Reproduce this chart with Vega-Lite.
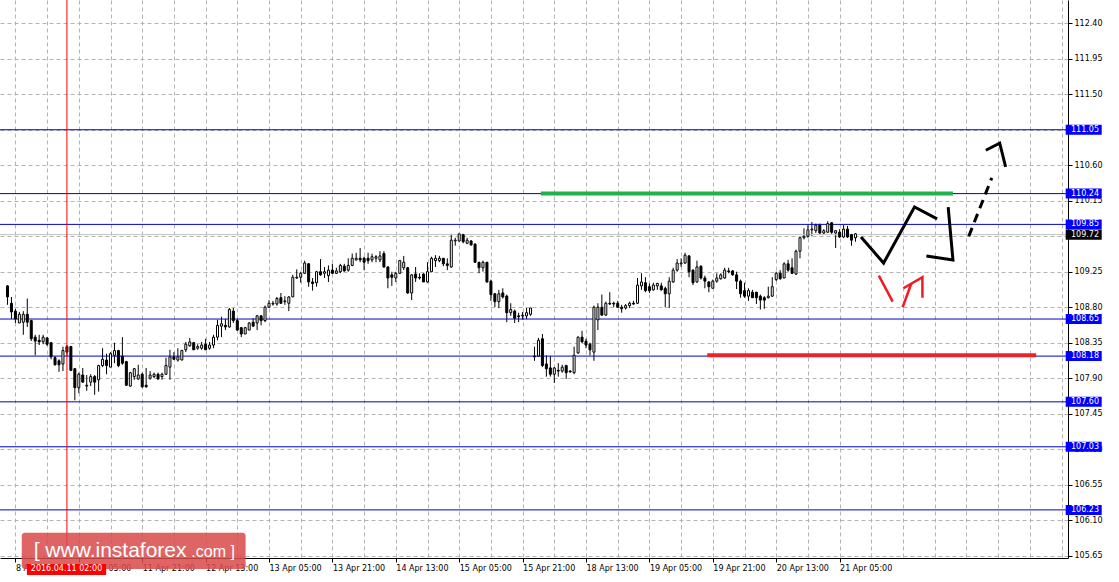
{
"$schema": "https://vega.github.io/schema/vega-lite/v6.json",
"width": 1068, "height": 558,
"autosize": {"type": "none"},
"padding": {"left": 0, "top": 0, "right": 51, "bottom": 24},
"background": "white",
"config": {"view": {"stroke": null}, "font": "DejaVu Sans",
  "axis": {"labelFont": "DejaVu Sans", "labelFontSize": 8, "labelColor": "black", "domainColor": "black", "tickColor": "black", "gridColor": "#b4b4b4", "gridDash": [4, 3], "tickSize": 4, "labelPadding": 2, "labelOverlap": false}},
"resolve": {"axis": {"x": "independent", "y": "independent"}},
"datasets": {
"candles": [
{"k":0,"o":109.07,"h":109.08,"l":108.83,"c":108.93},{"k":1,"o":108.85,"h":108.93,"l":108.65,"c":108.74},{"k":2,"o":108.75,"h":108.78,"l":108.60,"c":108.65},{"k":3,"o":108.60,"h":108.74,"l":108.60,"c":108.71},{"k":4,"o":108.61,"h":108.75,"l":108.45,"c":108.71},{"k":5,"o":108.71,"h":108.91,"l":108.55,"c":108.61},{"k":6,"o":108.63,"h":108.64,"l":108.37,"c":108.40},{"k":7,"o":108.42,"h":108.45,"l":108.19,"c":108.37},{"k":8,"o":108.38,"h":108.45,"l":108.32,"c":108.36},{"k":9,"o":108.36,"h":108.45,"l":108.33,"c":108.42},
{"k":10,"o":108.41,"h":108.42,"l":108.31,"c":108.33},{"k":11,"o":108.35,"h":108.35,"l":108.14,"c":108.17},{"k":12,"o":108.16,"h":108.18,"l":108.06,"c":108.07},{"k":13,"o":108.12,"h":108.14,"l":107.98,"c":108.07},{"k":14,"o":108.08,"h":108.30,"l":107.99,"c":108.25},{"k":15,"o":108.30,"h":108.32,"l":108.18,"c":108.23},{"k":16,"o":108.30,"h":108.31,"l":107.99,"c":108.00},{"k":17,"o":108.02,"h":108.03,"l":107.62,"c":107.78},{"k":18,"o":107.78,"h":107.97,"l":107.71,"c":107.95},{"k":19,"o":107.94,"h":108.03,"l":107.84,"c":107.85},
{"k":20,"o":107.80,"h":107.94,"l":107.74,"c":107.81},{"k":21,"o":107.85,"h":107.95,"l":107.80,"c":107.92},{"k":22,"o":107.92,"h":107.94,"l":107.69,"c":107.85},{"k":23,"o":107.88,"h":108.07,"l":107.73,"c":108.06},{"k":24,"o":108.06,"h":108.28,"l":108.04,"c":108.14},{"k":25,"o":108.13,"h":108.21,"l":107.95,"c":108.06},{"k":26,"o":108.04,"h":108.23,"l":108.04,"c":108.21},{"k":27,"o":108.19,"h":108.35,"l":108.09,"c":108.25},{"k":28,"o":108.25,"h":108.26,"l":108.04,"c":108.06},{"k":29,"o":108.18,"h":108.42,"l":108.07,"c":108.09},
{"k":30,"o":108.11,"h":108.12,"l":107.80,"c":107.81},{"k":31,"o":107.80,"h":107.98,"l":107.79,"c":107.97},{"k":32,"o":107.92,"h":108.03,"l":107.88,"c":108.02},{"k":33,"o":107.89,"h":108.07,"l":107.88,"c":107.94},{"k":34,"o":107.95,"h":107.97,"l":107.78,"c":107.79},{"k":35,"o":107.81,"h":108.03,"l":107.78,"c":107.79},{"k":36,"o":107.90,"h":107.99,"l":107.88,"c":107.94},{"k":37,"o":107.92,"h":107.97,"l":107.90,"c":107.95},{"k":38,"o":107.95,"h":107.97,"l":107.88,"c":107.89},{"k":39,"o":107.92,"h":107.97,"l":107.88,"c":107.95},
{"k":40,"o":107.95,"h":108.16,"l":107.94,"c":108.06},{"k":41,"o":108.04,"h":108.26,"l":107.88,"c":108.17},{"k":42,"o":108.17,"h":108.23,"l":108.13,"c":108.14},{"k":43,"o":108.13,"h":108.28,"l":108.11,"c":108.17},{"k":44,"o":108.13,"h":108.26,"l":108.13,"c":108.25},{"k":45,"o":108.26,"h":108.36,"l":108.23,"c":108.33},{"k":46,"o":108.31,"h":108.41,"l":108.30,"c":108.36},{"k":47,"o":108.35,"h":108.36,"l":108.26,"c":108.26},{"k":48,"o":108.28,"h":108.33,"l":108.26,"c":108.30},{"k":49,"o":108.28,"h":108.36,"l":108.26,"c":108.32},
{"k":50,"o":108.33,"h":108.40,"l":108.26,"c":108.26},{"k":51,"o":108.28,"h":108.36,"l":108.26,"c":108.32},{"k":52,"o":108.32,"h":108.45,"l":108.28,"c":108.42},{"k":53,"o":108.42,"h":108.64,"l":108.38,"c":108.57},{"k":54,"o":108.56,"h":108.68,"l":108.42,"c":108.59},{"k":55,"o":108.57,"h":108.65,"l":108.51,"c":108.55},{"k":56,"o":108.55,"h":108.79,"l":108.54,"c":108.77},{"k":57,"o":108.75,"h":108.79,"l":108.60,"c":108.63},{"k":58,"o":108.63,"h":108.65,"l":108.50,"c":108.51},{"k":59,"o":108.54,"h":108.55,"l":108.42,"c":108.46},
{"k":60,"o":108.46,"h":108.55,"l":108.46,"c":108.54},{"k":61,"o":108.51,"h":108.61,"l":108.51,"c":108.60},{"k":62,"o":108.61,"h":108.66,"l":108.55,"c":108.56},{"k":63,"o":108.60,"h":108.70,"l":108.51,"c":108.69},{"k":64,"o":108.69,"h":108.70,"l":108.57,"c":108.63},{"k":65,"o":108.63,"h":108.82,"l":108.61,"c":108.80},{"k":66,"o":108.80,"h":108.89,"l":108.80,"c":108.85},{"k":67,"o":108.84,"h":108.88,"l":108.82,"c":108.85},{"k":68,"o":108.84,"h":108.93,"l":108.82,"c":108.91},{"k":69,"o":108.92,"h":108.98,"l":108.84,"c":108.85},
{"k":70,"o":108.87,"h":108.94,"l":108.83,"c":108.88},{"k":71,"o":108.85,"h":108.94,"l":108.75,"c":108.93},{"k":72,"o":108.93,"h":109.21,"l":108.93,"c":109.18},{"k":73,"o":109.17,"h":109.28,"l":109.16,"c":109.18},{"k":74,"o":109.18,"h":109.25,"l":109.11,"c":109.23},{"k":75,"o":109.23,"h":109.39,"l":109.22,"c":109.36},{"k":76,"o":109.35,"h":109.36,"l":109.06,"c":109.12},{"k":77,"o":109.12,"h":109.17,"l":109.01,"c":109.10},{"k":78,"o":109.11,"h":109.26,"l":109.06,"c":109.25},{"k":79,"o":109.25,"h":109.41,"l":109.20,"c":109.21},
{"k":80,"o":109.23,"h":109.31,"l":109.17,"c":109.25},{"k":81,"o":109.20,"h":109.33,"l":109.12,"c":109.27},{"k":82,"o":109.27,"h":109.35,"l":109.22,"c":109.23},{"k":83,"o":109.23,"h":109.30,"l":109.22,"c":109.26},{"k":84,"o":109.25,"h":109.35,"l":109.23,"c":109.33},{"k":85,"o":109.32,"h":109.35,"l":109.25,"c":109.26},{"k":86,"o":109.27,"h":109.42,"l":109.25,"c":109.33},{"k":87,"o":109.33,"h":109.48,"l":109.32,"c":109.42},{"k":88,"o":109.40,"h":109.49,"l":109.39,"c":109.42},{"k":89,"o":109.42,"h":109.55,"l":109.37,"c":109.40},
{"k":90,"o":109.42,"h":109.44,"l":109.27,"c":109.37},{"k":91,"o":109.42,"h":109.49,"l":109.35,"c":109.39},{"k":92,"o":109.40,"h":109.48,"l":109.37,"c":109.44},{"k":93,"o":109.42,"h":109.46,"l":109.37,"c":109.44},{"k":94,"o":109.40,"h":109.51,"l":109.37,"c":109.45},{"k":95,"o":109.48,"h":109.51,"l":109.30,"c":109.31},{"k":96,"o":109.31,"h":109.32,"l":109.04,"c":109.17},{"k":97,"o":109.21,"h":109.25,"l":109.07,"c":109.18},{"k":98,"o":109.17,"h":109.25,"l":109.12,"c":109.23},{"k":99,"o":109.23,"h":109.40,"l":109.22,"c":109.39},
{"k":100,"o":109.30,"h":109.45,"l":109.27,"c":109.37},{"k":101,"o":109.30,"h":109.31,"l":108.97,"c":108.98},{"k":102,"o":108.98,"h":109.22,"l":108.89,"c":109.21},{"k":103,"o":109.22,"h":109.31,"l":109.12,"c":109.17},{"k":104,"o":109.18,"h":109.23,"l":109.15,"c":109.17},{"k":105,"o":109.22,"h":109.23,"l":109.12,"c":109.12},{"k":106,"o":109.12,"h":109.37,"l":109.11,"c":109.25},{"k":107,"o":109.25,"h":109.44,"l":109.25,"c":109.42},{"k":108,"o":109.39,"h":109.46,"l":109.31,"c":109.42},{"k":109,"o":109.39,"h":109.45,"l":109.37,"c":109.42},
{"k":110,"o":109.42,"h":109.42,"l":109.32,"c":109.35},{"k":111,"o":109.35,"h":109.42,"l":109.27,"c":109.33},{"k":112,"o":109.31,"h":109.73,"l":109.30,"c":109.65},{"k":113,"o":109.64,"h":109.68,"l":109.58,"c":109.65},{"k":114,"o":109.64,"h":109.73,"l":109.63,"c":109.73},{"k":115,"o":109.72,"h":109.73,"l":109.61,"c":109.63},{"k":116,"o":109.61,"h":109.68,"l":109.60,"c":109.65},{"k":117,"o":109.64,"h":109.65,"l":109.58,"c":109.59},{"k":118,"o":109.60,"h":109.61,"l":109.36,"c":109.37},{"k":119,"o":109.37,"h":109.37,"l":109.23,"c":109.30},
{"k":120,"o":109.30,"h":109.39,"l":109.25,"c":109.37},{"k":121,"o":109.37,"h":109.37,"l":109.11,"c":109.12},{"k":122,"o":109.13,"h":109.15,"l":108.88,"c":108.96},{"k":123,"o":108.97,"h":108.98,"l":108.80,"c":108.87},{"k":124,"o":108.87,"h":109.02,"l":108.79,"c":108.97},{"k":125,"o":108.98,"h":109.04,"l":108.91,"c":108.93},{"k":126,"o":108.94,"h":108.96,"l":108.61,"c":108.73},{"k":127,"o":108.73,"h":108.85,"l":108.69,"c":108.77},{"k":128,"o":108.75,"h":108.77,"l":108.60,"c":108.66},{"k":129,"o":108.69,"h":108.73,"l":108.61,"c":108.68},
{"k":130,"o":108.69,"h":108.74,"l":108.64,"c":108.70},{"k":131,"o":108.69,"h":108.79,"l":108.65,"c":108.73},{"k":132,"o":108.71,"h":108.79,"l":108.69,"c":108.79},{"k":133,"o":108.18,"h":108.30,"l":108.12,"c":108.17},{"k":134,"o":108.18,"h":108.41,"l":108.17,"c":108.38},{"k":135,"o":108.40,"h":108.46,"l":108.04,"c":108.06},{"k":136,"o":108.08,"h":108.19,"l":107.92,"c":108.02},{"k":137,"o":108.03,"h":108.18,"l":107.92,"c":107.95},{"k":138,"o":107.95,"h":108.04,"l":107.84,"c":108.03},{"k":139,"o":108.00,"h":108.09,"l":107.92,"c":107.99},
{"k":140,"o":107.99,"h":108.07,"l":107.97,"c":108.04},{"k":141,"o":108.06,"h":108.07,"l":107.89,"c":107.97},{"k":142,"o":107.99,"h":108.00,"l":107.97,"c":107.98},{"k":143,"o":107.97,"h":108.30,"l":107.95,"c":108.19},{"k":144,"o":108.22,"h":108.43,"l":108.21,"c":108.42},{"k":145,"o":108.42,"h":108.50,"l":108.35,"c":108.36},{"k":146,"o":108.37,"h":108.40,"l":108.28,"c":108.32},{"k":147,"o":108.33,"h":108.35,"l":108.19,"c":108.26},{"k":148,"o":108.23,"h":108.82,"l":108.12,"c":108.80},{"k":149,"o":108.64,"h":108.85,"l":108.51,"c":108.80},
{"k":150,"o":108.80,"h":108.96,"l":108.69,"c":108.70},{"k":151,"o":108.70,"h":108.87,"l":108.69,"c":108.85},{"k":152,"o":108.85,"h":108.99,"l":108.83,"c":108.84},{"k":153,"o":108.85,"h":108.87,"l":108.80,"c":108.84},{"k":154,"o":108.85,"h":108.88,"l":108.79,"c":108.80},{"k":155,"o":108.80,"h":108.83,"l":108.73,"c":108.78},{"k":156,"o":108.79,"h":108.84,"l":108.77,"c":108.82},{"k":157,"o":108.82,"h":108.87,"l":108.79,"c":108.85},{"k":158,"o":108.85,"h":108.88,"l":108.83,"c":108.84},{"k":159,"o":108.85,"h":109.17,"l":108.84,"c":109.08},
{"k":160,"o":109.07,"h":109.23,"l":109.02,"c":109.12},{"k":161,"o":109.11,"h":109.18,"l":108.99,"c":109.01},{"k":162,"o":109.06,"h":109.10,"l":108.98,"c":109.01},{"k":163,"o":109.02,"h":109.11,"l":109.01,"c":109.08},{"k":164,"o":109.07,"h":109.11,"l":109.02,"c":109.10},{"k":165,"o":109.07,"h":109.11,"l":109.01,"c":109.02},{"k":166,"o":109.04,"h":109.06,"l":108.80,"c":108.97},{"k":167,"o":108.97,"h":109.18,"l":108.79,"c":109.13},{"k":168,"o":109.12,"h":109.30,"l":109.11,"c":109.27},{"k":169,"o":109.27,"h":109.41,"l":109.25,"c":109.36},
{"k":170,"o":109.35,"h":109.42,"l":109.31,"c":109.36},{"k":171,"o":109.36,"h":109.49,"l":109.35,"c":109.46},{"k":172,"o":109.45,"h":109.46,"l":109.18,"c":109.25},{"k":173,"o":109.27,"h":109.28,"l":109.08,"c":109.11},{"k":174,"o":109.12,"h":109.39,"l":109.11,"c":109.31},{"k":175,"o":109.32,"h":109.33,"l":109.15,"c":109.17},{"k":176,"o":109.17,"h":109.20,"l":109.04,"c":109.13},{"k":177,"o":109.12,"h":109.13,"l":108.99,"c":109.06},{"k":178,"o":109.04,"h":109.15,"l":109.04,"c":109.13},{"k":179,"o":109.13,"h":109.23,"l":109.11,"c":109.17},
{"k":180,"o":109.16,"h":109.23,"l":109.15,"c":109.21},{"k":181,"o":109.17,"h":109.30,"l":109.16,"c":109.27},{"k":182,"o":109.26,"h":109.30,"l":109.23,"c":109.25},{"k":183,"o":109.26,"h":109.27,"l":109.20,"c":109.21},{"k":184,"o":109.21,"h":109.25,"l":109.03,"c":109.13},{"k":185,"o":109.13,"h":109.15,"l":108.92,"c":108.97},{"k":186,"o":109.01,"h":109.11,"l":108.92,"c":108.94},{"k":187,"o":108.94,"h":109.04,"l":108.88,"c":109.01},{"k":188,"o":108.99,"h":109.02,"l":108.92,"c":108.92},{"k":189,"o":108.99,"h":108.99,"l":108.84,"c":108.92},
{"k":190,"o":108.94,"h":108.96,"l":108.77,"c":108.89},{"k":191,"o":108.92,"h":108.94,"l":108.78,"c":108.89},{"k":192,"o":108.92,"h":109.06,"l":108.91,"c":108.94},{"k":193,"o":108.94,"h":109.18,"l":108.93,"c":109.06},{"k":194,"o":109.15,"h":109.25,"l":109.13,"c":109.23},{"k":195,"o":109.23,"h":109.27,"l":109.15,"c":109.16},{"k":196,"o":109.17,"h":109.37,"l":109.17,"c":109.35},{"k":197,"o":109.35,"h":109.40,"l":109.25,"c":109.27},{"k":198,"o":109.30,"h":109.42,"l":109.22,"c":109.23},{"k":199,"o":109.22,"h":109.53,"l":109.21,"c":109.51},
{"k":200,"o":109.51,"h":109.69,"l":109.42,"c":109.68},{"k":201,"o":109.68,"h":109.80,"l":109.66,"c":109.70},{"k":202,"o":109.70,"h":109.84,"l":109.68,"c":109.78},{"k":203,"o":109.78,"h":109.88,"l":109.70,"c":109.79},{"k":204,"o":109.77,"h":109.86,"l":109.74,"c":109.84},{"k":205,"o":109.84,"h":109.86,"l":109.73,"c":109.74},{"k":206,"o":109.74,"h":109.79,"l":109.73,"c":109.77},{"k":207,"o":109.75,"h":109.89,"l":109.75,"c":109.86},{"k":208,"o":109.87,"h":109.88,"l":109.73,"c":109.75},{"k":209,"o":109.74,"h":109.78,"l":109.55,"c":109.77},
{"k":210,"o":109.75,"h":109.79,"l":109.68,"c":109.69},{"k":211,"o":109.69,"h":109.84,"l":109.68,"c":109.79},{"k":212,"o":109.79,"h":109.83,"l":109.68,"c":109.69},{"k":213,"o":109.72,"h":109.73,"l":109.58,"c":109.65},{"k":214,"o":109.68,"h":109.74,"l":109.63,"c":109.73}
],
"levels": [
{"p":111.05,"t":"lvl"},{"p":110.24,"t":"lvl"},{"p":109.85,"t":"lvl"},{"p":108.65,"t":"lvl"},{"p":108.18,"t":"lvl"},{"p":107.60,"t":"lvl"},{"p":107.03,"t":"lvl"},{"p":106.23,"t":"lvl"},{"p":109.72,"t":"bid"}
],
"segs": [
{"name":"green","k1":134.6,"k2":238.6,"p":110.24},
{"name":"red","k1":176.6,"k2":259.6,"p":108.19}
],
"paths": [
{"path":"a1","i":0,"k":215.4,"p":109.69},{"path":"a1","i":1,"k":221.1,"p":109.36},{"path":"a1","i":2,"k":228.9,"p":110.07},{"path":"a1","i":3,"k":234.6,"p":109.92},
{"path":"a2","i":0,"k":231.9,"p":109.45},{"path":"a2","i":1,"k":238.6,"p":109.40},{"path":"a2","i":2,"k":237.4,"p":110.07},
{"path":"a3","i":0,"k":246.9,"p":110.79},{"path":"a3","i":1,"k":250.4,"p":110.88},{"path":"a3","i":2,"k":251.9,"p":110.58},
{"path":"d1","i":0,"k":242.6,"p":109.70},{"path":"d1","i":1,"k":248.4,"p":110.44},
{"path":"r1","i":0,"k":219.9,"p":109.20},{"path":"r1","i":1,"k":223.4,"p":108.87},
{"path":"r2","i":0,"k":225.9,"p":108.80},{"path":"r2","i":1,"k":228.1,"p":109.10},
{"path":"r3","i":0,"k":226.1,"p":109.04},{"path":"r3","i":1,"k":230.9,"p":109.18},{"path":"r3","i":2,"k":230.9,"p":108.92}
]
},
"layer": [
{
"data": {"name": "candles"},
"mark": {"type": "rule", "color": "black", "strokeWidth": 1},
"encoding": {
 "x": {"field": "k", "type": "quantitative", "scale": {"domain": [-0.625, 266.375], "nice": false, "zero": false},
   "axis": {"orient": "bottom", "title": null, "values": [2,10,18,26,34,42,50,58,66,74,82,90,98,106,114,122,130,138,146,154,162,170,178,186,194,202,210,218,226,234,242,250,258,266],
     "grid": true, "labelAlign": "left", "labelBaseline": "top", "labelFlush": false, "labelOverlap": false,
     "labelExpr": "((datum.value-2)%16==0 && datum.value<=210) ? ['8 Apr 13:00','11 Apr 05:00','11 Apr 21:00','12 Apr 13:00','13 Apr 05:00','13 Apr 21:00','14 Apr 13:00','15 Apr 05:00','15 Apr 21:00','18 Apr 13:00','19 Apr 05:00','19 Apr 21:00','20 Apr 13:00','21 Apr 05:00'][(datum.value-2)/16] : ''",
     "tickOpacity": {"condition": {"test": "((datum.value-2)%16==0 && datum.value<=210)", "value": 1}, "value": 0}}},
 "y": {"field": "l", "type": "quantitative", "scale": {"domain": [105.62, 112.695], "nice": false, "zero": false},
   "axis": {"orient": "right", "title": null, "values": [105.65,106.10,106.55,107.00,107.45,107.90,108.35,108.80,109.25,109.70,110.15,110.60,111.05,111.50,111.95,112.40],
     "grid": true, "labelBaseline": "middle", "labelAlign": "left", "labelFlush": false, "labelOverlap": false,
     "labelExpr": "(abs(datum.value-111.05)<0.001 || abs(datum.value-109.70)<0.001) ? '' : format(datum.value, '.2f')"}},
 "y2": {"field": "h"}
}
},
{
"data": {"name": "levels"},
"transform": [{"filter": "datum.t == 'lvl'"}],
"mark": {"type": "rule", "color": "#0000c8", "strokeWidth": 1},
"encoding": {"y": {"field": "p", "type": "quantitative", "scale": {"domain": [105.62, 112.695], "nice": false, "zero": false}, "axis": null}}
},
{
"data": {"name": "levels"},
"transform": [{"filter": "datum.t == 'bid'"}],
"mark": {"type": "rule", "color": "#c0c0c0", "strokeWidth": 1},
"encoding": {"y": {"field": "p", "type": "quantitative", "scale": {"domain": [105.62, 112.695], "nice": false, "zero": false}, "axis": null}}
},
{
"data": {"name": "candles"},
"mark": {"type": "bar", "orient": "vertical", "width": 2, "stroke": "black", "strokeWidth": 1},
"encoding": {
 "x": {"field": "k", "type": "quantitative", "scale": {"domain": [-0.625, 266.375], "nice": false, "zero": false}, "axis": null},
 "y": {"field": "o", "type": "quantitative", "scale": {"domain": [105.62, 112.695], "nice": false, "zero": false}, "axis": null},
 "y2": {"field": "c"},
 "fill": {"condition": {"test": "datum.c < datum.o", "value": "black"}, "value": "white"}
}
},
{
"data": {"name": "segs"},
"transform": [{"filter": "datum.name == 'green'"}],
"mark": {"type": "rule", "color": "#22b04a", "strokeWidth": 4},
"encoding": {
 "x": {"field": "k1", "type": "quantitative", "scale": {"domain": [-0.625, 266.375], "nice": false, "zero": false}, "axis": null},
 "x2": {"field": "k2"},
 "y": {"field": "p", "type": "quantitative", "scale": {"domain": [105.62, 112.695], "nice": false, "zero": false}, "axis": null}
}
},
{
"data": {"name": "segs"},
"transform": [{"filter": "datum.name == 'red'"}],
"mark": {"type": "rule", "color": "#e8232b", "strokeWidth": 4},
"encoding": {
 "x": {"field": "k1", "type": "quantitative", "scale": {"domain": [-0.625, 266.375], "nice": false, "zero": false}, "axis": null},
 "x2": {"field": "k2"},
 "y": {"field": "p", "type": "quantitative", "scale": {"domain": [105.62, 112.695], "nice": false, "zero": false}, "axis": null}
}
},
{
"data": {"name": "paths"},
"transform": [{"filter": "datum.path == 'a1' || datum.path == 'a2' || datum.path == 'a3'"}],
"mark": {"type": "line", "color": "black", "strokeWidth": 3, "strokeJoin": "miter"},
"encoding": {
 "x": {"field": "k", "type": "quantitative", "scale": {"domain": [-0.625, 266.375], "nice": false, "zero": false}, "axis": null},
 "y": {"field": "p", "type": "quantitative", "scale": {"domain": [105.62, 112.695], "nice": false, "zero": false}, "axis": null},
 "detail": {"field": "path"},
 "order": {"field": "i"}
}
},
{
"data": {"name": "paths"},
"transform": [{"filter": "datum.path == 'd1'"}],
"mark": {"type": "line", "color": "black", "strokeWidth": 3, "strokeDash": [9, 6]},
"encoding": {
 "x": {"field": "k", "type": "quantitative", "scale": {"domain": [-0.625, 266.375], "nice": false, "zero": false}, "axis": null},
 "y": {"field": "p", "type": "quantitative", "scale": {"domain": [105.62, 112.695], "nice": false, "zero": false}, "axis": null},
 "detail": {"field": "path"},
 "order": {"field": "i"}
}
},
{
"data": {"name": "paths"},
"transform": [{"filter": "datum.path == 'r1' || datum.path == 'r2' || datum.path == 'r3'"}],
"mark": {"type": "line", "color": "#ee1c24", "strokeWidth": 2.5, "strokeJoin": "miter"},
"encoding": {
 "x": {"field": "k", "type": "quantitative", "scale": {"domain": [-0.625, 266.375], "nice": false, "zero": false}, "axis": null},
 "y": {"field": "p", "type": "quantitative", "scale": {"domain": [105.62, 112.695], "nice": false, "zero": false}, "axis": null},
 "detail": {"field": "path"},
 "order": {"field": "i"}
}
},
{
"data": {"name": "levels"},
"mark": {"type": "tick", "orient": "vertical", "thickness": 36, "size": 10, "opacity": 1},
"encoding": {
 "x": {"datum": 271.6, "type": "quantitative", "scale": {"domain": [-0.625, 266.375], "nice": false, "zero": false}, "axis": null},
 "y": {"field": "p", "type": "quantitative", "scale": {"domain": [105.62, 112.695], "nice": false, "zero": false}, "axis": null},
 "color": {"condition": {"test": "datum.t == 'bid'", "value": "black"}, "value": "#0000ff"}
}
},
{
"data": {"name": "levels"},
"mark": {"type": "text", "align": "left", "baseline": "middle", "color": "white", "font": "DejaVu Sans", "fontSize": 8},
"encoding": {
 "x": {"datum": 268.4, "type": "quantitative", "scale": {"domain": [-0.625, 266.375], "nice": false, "zero": false}, "axis": null},
 "y": {"field": "p", "type": "quantitative", "scale": {"domain": [105.62, 112.695], "nice": false, "zero": false}, "axis": null},
 "text": {"field": "p", "type": "quantitative", "format": ".2f"}
}
},
{
"data": {"values": [{}]},
"mark": {"type": "rule", "color": "#ff0000", "strokeWidth": 1},
"encoding": {"x": {"datum": 15, "type": "quantitative", "scale": {"domain": [-0.625, 266.375], "nice": false, "zero": false}, "axis": null}}
},
{
"data": {"values": [{}]},
"mark": {"type": "rect", "color": "#d94a4a", "opacity": 0.85, "cornerRadius": 3},
"encoding": {
 "x": {"datum": 3.6, "type": "quantitative", "scale": {"domain": [-0.625, 266.375], "nice": false, "zero": false}, "axis": null},
 "x2": {"datum": 60.1},
 "y": {"datum": 105.94, "type": "quantitative", "scale": {"domain": [105.62, 112.695], "nice": false, "zero": false}, "axis": null},
 "y2": {"datum": 105.48}
}
},
{
"data": {"values": [{}]},
"mark": {"type": "rect", "color": "#ff0000"},
"encoding": {
 "x": {"datum": 4.9, "type": "quantitative", "scale": {"domain": [-0.625, 266.375], "nice": false, "zero": false}, "axis": null},
 "x2": {"datum": 24.9},
 "y": {"datum": 105.545, "type": "quantitative", "scale": {"domain": [105.62, 112.695], "nice": false, "zero": false}, "axis": null},
 "y2": {"datum": 105.405}
}
},
{
"data": {"values": [{}]},
"mark": {"type": "text", "align": "center", "baseline": "middle", "color": "white", "font": "DejaVu Sans", "fontSize": 8, "text": "2016.04.11 02:00"},
"encoding": {
 "x": {"datum": 14.9, "type": "quantitative", "scale": {"domain": [-0.625, 266.375], "nice": false, "zero": false}, "axis": null},
 "y": {"datum": 105.475, "type": "quantitative", "scale": {"domain": [105.62, 112.695], "nice": false, "zero": false}, "axis": null}
}
},
{
"data": {"values": [{}]},
"mark": {"type": "text", "align": "left", "baseline": "middle", "color": "white", "font": "Liberation Sans", "fontSize": 21, "text": "[  www.instaforex"},
"encoding": {
 "x": {"datum": 6.6, "type": "quantitative", "scale": {"domain": [-0.625, 266.375], "nice": false, "zero": false}, "axis": null},
 "y": {"datum": 105.71, "type": "quantitative", "scale": {"domain": [105.62, 112.695], "nice": false, "zero": false}, "axis": null}
}
},
{
"data": {"values": [{}]},
"mark": {"type": "text", "align": "left", "baseline": "middle", "color": "white", "font": "Liberation Sans", "fontSize": 16, "text": ".com ]"},
"encoding": {
 "x": {"datum": 46.4, "type": "quantitative", "scale": {"domain": [-0.625, 266.375], "nice": false, "zero": false}, "axis": null},
 "y": {"datum": 105.69, "type": "quantitative", "scale": {"domain": [105.62, 112.695], "nice": false, "zero": false}, "axis": null}
}
}
]
}
